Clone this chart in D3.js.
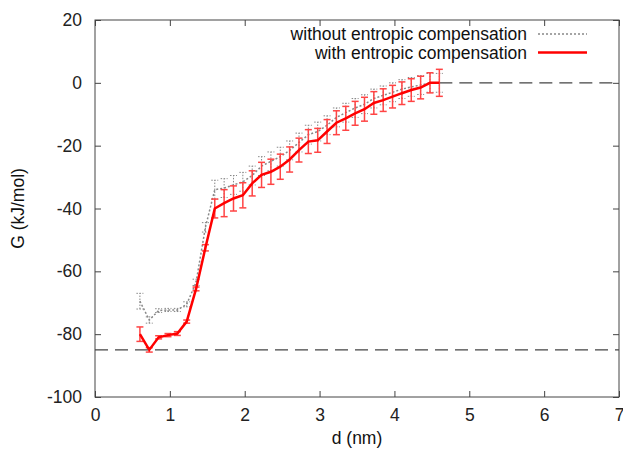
<!DOCTYPE html>
<html><head><meta charset="utf-8">
<script src="https://cdn.jsdelivr.net/npm/d3@7"></script>
<style>body{margin:0;background:#fff}svg{display:block}text{font-family:"Liberation Sans",Arial,sans-serif}</style>
</head><body><div id="c"></div>
<script>
const dist = [0.6,0.725,0.85,0.975,1.1,1.225,1.35,1.475,1.6,1.725,1.85,1.975,2.1,2.225,2.35,2.475,2.6,2.725,2.85,2.975,3.1,3.225,3.35,3.475,3.6,3.725,3.85,3.975,4.1,4.225,4.35,4.475,4.6];
const gWith = [-80,-85,-81,-80.3,-79.8,-76,-65.6,-52.5,-40,-38.3,-36.8,-35.8,-32,-29.3,-28.3,-26.7,-24.4,-21.4,-18.7,-18.3,-15.5,-12.7,-11.3,-9.7,-8.4,-6.4,-5.5,-4.4,-3.3,-2.3,-1.5,0,0];
const errWith = [2.3,0.7,0.5,0.5,0.6,0.5,0.6,1,3,4.3,4,4,4,4,4,4,4,3.8,3.8,3.8,3.8,3.8,3.8,3.8,3.8,3.6,3.6,3.6,3.6,3.6,3.6,3.2,4.3];
const gWithout = [-69.5,-75.5,-72.5,-72.3,-72.3,-70.5,-63.5,-46,-34,-33.5,-32.5,-31.5,-29.5,-26.5,-25,-23.5,-21.5,-19,-16.5,-15.5,-13.5,-11,-9.5,-8,-6.8,-5,-4,-3,-2,-1.3,-0.7,0,0];
const errWithout = [2.5,1,0.6,0.5,0.5,0.8,1,1.5,3,3,3,3,3,3,3,3,3,3,3,3,3,3,3,3,3,3,3,3,3,3,3,3,3];
const xTicks = [0,1,2,3,4,5,6,7];
const yTicks = [20,0,-20,-40,-60,-80,-100];
const refLevels = [{y:0, from:4.6, to:7},{y:-85, from:0, to:7}];
const legendLabels = ["without entropic compensation","with entropic compensation"];

const W=623,H=450, L=95, R=619, T=20, B=397;
const FS=17.5;
const svg=d3.select("#c").append("svg").attr("width",W).attr("height",H);
const x=d3.scaleLinear().domain([0,7]).range([L,R]);
const y=d3.scaleLinear().domain([-100,20]).range([B,T]);
const frame="#444";
const fmt=d=>String(d);

const tk=6;
svg.append("g").attr("transform",`translate(0,${B})`).call(d3.axisBottom(x).tickValues(xTicks).tickFormat(fmt).tickSizeInner(-tk).tickSizeOuter(0).tickPadding(12))
  .call(g=>{g.select(".domain").remove();g.selectAll("line").attr("stroke",frame);g.selectAll("text").attr("font-size",FS).attr("fill","#222");});
svg.append("g").attr("transform",`translate(0,${T})`).call(d3.axisTop(x).tickValues(xTicks).tickSizeInner(-tk).tickSizeOuter(0).tickFormat(""))
  .call(g=>{g.select(".domain").remove();g.selectAll("line").attr("stroke",frame);});
svg.append("g").attr("transform",`translate(${L},0)`).call(d3.axisLeft(y).tickValues(yTicks).tickFormat(fmt).tickSizeInner(-tk).tickSizeOuter(0).tickPadding(13))
  .call(g=>{g.select(".domain").remove();g.selectAll("line").attr("stroke",frame);g.selectAll("text").attr("font-size",FS).attr("fill","#222");});
svg.append("g").attr("transform",`translate(${R},0)`).call(d3.axisRight(y).tickValues(yTicks).tickSizeInner(-tk).tickSizeOuter(0).tickFormat(""))
  .call(g=>{g.select(".domain").remove();g.selectAll("line").attr("stroke",frame);});

svg.selectAll(".ref").data(refLevels).join("line")
  .attr("x1",d=>x(d.from)).attr("x2",d=>x(d.to)).attr("y1",d=>y(d.y)).attr("y2",d=>y(d.y))
  .attr("stroke","#444").attr("stroke-width",1.2).attr("stroke-dasharray","13,7");

const dataWithout=dist.map((d,i)=>({d,g:gWithout[i],e:errWithout[i]}));
const dataWith=dist.map((d,i)=>({d,g:gWith[i],e:errWith[i]}));
const line=d3.line().x(p=>x(p.d)).y(p=>y(p.g));

function errorBars(data,color,width,dash){
  const g=svg.append("g").attr("stroke",color).attr("stroke-width",width).attr("fill","none");
  if(dash) g.attr("stroke-dasharray",dash);
  const cw=3.5;
  data.forEach(p=>{
    g.append("line").attr("x1",x(p.d)).attr("x2",x(p.d)).attr("y1",y(p.g-p.e)).attr("y2",y(p.g+p.e));
    g.append("line").attr("x1",x(p.d)-cw).attr("x2",x(p.d)+cw).attr("y1",y(p.g-p.e)).attr("y2",y(p.g-p.e));
    g.append("line").attr("x1",x(p.d)-cw).attr("x2",x(p.d)+cw).attr("y1",y(p.g+p.e)).attr("y2",y(p.g+p.e));
  });
}
errorBars(dataWithout,"#888",1,"1.5,1.5");
svg.append("path").datum(dataWithout).attr("d",line).attr("fill","none").attr("stroke","#888").attr("stroke-width",1.5).attr("stroke-dasharray","2,2");
errorBars(dataWith,"#f44",1.5,null);
svg.append("path").datum(dataWith).attr("d",line).attr("fill","none").attr("stroke","#f00").attr("stroke-width",2.5);

svg.append("rect").attr("x",L).attr("y",T).attr("width",R-L).attr("height",B-T).attr("fill","none").attr("stroke",frame).attr("stroke-width",1);

const leg=svg.append("g");
legendLabels.forEach((t,i)=>{
  const yy=34+i*18.5;
  leg.append("text").attr("x",527).attr("y",yy).attr("dy","0.35em").attr("text-anchor","end").attr("font-size",FS).attr("fill","#111").text(t);
  leg.append("line").attr("x1",538).attr("x2",587).attr("y1",yy).attr("y2",yy)
    .attr("stroke",i===0?"#888":"#f00").attr("stroke-width",i===0?1.5:2.5).attr("stroke-dasharray",i===0?"2,2":null);
});

svg.append("text").attr("x",(L+R)/2).attr("y",444).attr("text-anchor","middle").attr("font-size",FS).attr("fill","#111").text("d (nm)");
svg.append("text").attr("transform",`translate(24,${(T+B)/2}) rotate(-90)`).attr("text-anchor","middle").attr("font-size",FS).attr("fill","#111").text("G (kJ/mol)");
</script></body></html>
